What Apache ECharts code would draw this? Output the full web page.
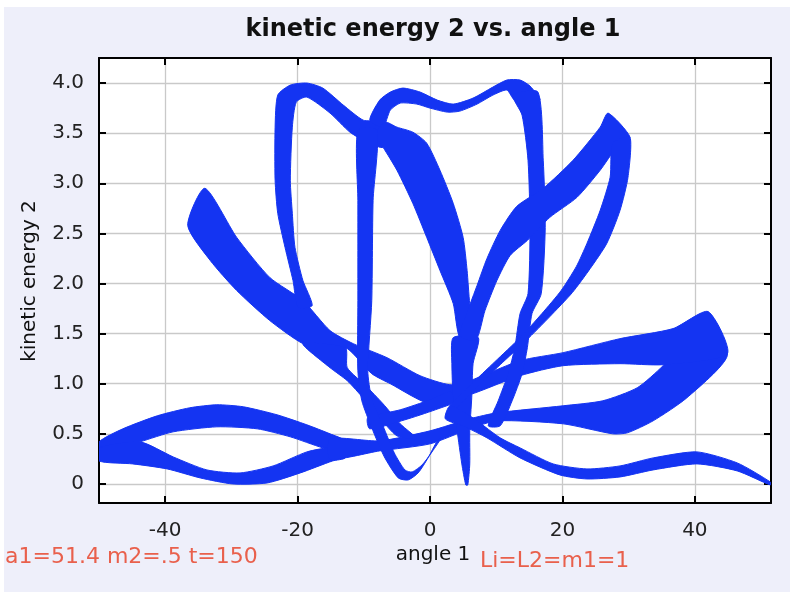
<!DOCTYPE html>
<html>
<head>
<meta charset="utf-8">
<script src="https://cdn.jsdelivr.net/npm/echarts@6/dist/echarts.min.js"></script>
<style>
  html, body { margin: 0; padding: 0; background: #ffffff; }
  #chart { width: 797px; height: 592px; }
</style>
</head>
<body>
<div id="chart"></div>
<script>
// Double pendulum run: kinetic energy of bob 2 against angle of arm 1.
// The trajectory sweeps the same loops many times with a slow drift, so each
// loop shows up as a ribbon. Every ribbon is stored as its two outer edges
// [angle 1, kinetic energy 2].

const angleTicks = [-40, -20, 0, 20, 40];
const energyTicks = [0, 0.5, 1.0, 1.5, 2.0, 2.5, 3.0, 3.5, 4.0];

// lower-left lens: upper ribbon
const lensUpperTop = [[-50, 0.42], [-46.4, 0.55], [-41.2, 0.68], [-36.3, 0.76], [-32.2, 0.79], [-28.2, 0.77], [-23.1, 0.69], [-18.6, 0.59], [-15.1, 0.50], [-12.8, 0.43]];
const lensUpperBottom = [[-50, 0.30], [-43.8, 0.42], [-38.8, 0.52], [-32.2, 0.57], [-26.1, 0.55], [-21.1, 0.47], [-16.2, 0.36], [-12.8, 0.31]];
// lower-left lens: lower ribbon
const lensLowerTop = [[-50, 0.36], [-43.8, 0.42], [-38.8, 0.27], [-33.7, 0.14], [-28.7, 0.11], [-23.7, 0.18], [-18.6, 0.32], [-14.7, 0.37], [-12.8, 0.37]];
const lensLowerBottom = [[-50, 0.23], [-44.9, 0.20], [-39.7, 0.15], [-34.7, 0.06], [-29.8, 0.00], [-24.6, 0.01], [-19.6, 0.11], [-14.7, 0.23], [-12.8, 0.26]];

// low ribbon running from the lens to the right-hand tip
const lowRunTop = [[-15.1, 0.45], [-7.6, 0.43], [0, 0.53], [6.0, 0.65], [10.1, 0.71], [20.1, 0.78], [26.1, 0.83], [31.3, 0.96], [35.2, 1.18], [39.3, 1.48], [42.0, 1.71]];
const lowRunBottom = [[-15.1, 0.25], [-7.6, 0.33], [0, 0.40], [6.0, 0.55], [10.1, 0.63], [20.1, 0.60], [27.6, 0.50], [29.8, 0.51], [33.7, 0.63], [38.8, 0.86], [44.9, 1.28]];

// wide ribbon from the upper-left tip across the middle to the right-hand tip
const longRunTop = [[-34.0, 2.95], [-29.2, 2.46], [-24.2, 2.06], [-19.2, 1.83], [-15.1, 1.53], [-11.6, 1.40], [-6.5, 1.26], [-1.5, 1.08], [3.0, 0.99], [6.0, 1.03], [13.6, 1.23], [20.1, 1.31], [28.7, 1.45], [36.7, 1.55], [42.0, 1.72]];
const longRunBottom = [[-36.6, 2.58], [-33.2, 2.23], [-29.2, 1.93], [-24.2, 1.63], [-19.2, 1.40], [-15.1, 1.34], [-12.5, 1.35], [-8.8, 1.10], [-6.0, 1.00], [0, 0.80], [6.0, 0.89], [13.6, 1.08], [20.1, 1.18], [28.7, 1.20], [35.2, 1.19], [44.9, 1.30]];

// branch leaving the wide ribbon downwards
const branchRight = [[-12.8, 1.36], [-12.5, 1.16], [-9.7, 0.98], [-7.1, 0.80], [-4.5, 0.60], [-2.0, 0.45]];
const branchLeft = [[-19.2, 1.40], [-15.1, 1.16], [-12.5, 1.03], [-10.0, 0.85], [-7.6, 0.66], [-5.0, 0.48]];

// short ribbon joining the centre knot
const crossTop = [[-9.4, 0.66], [-4.5, 0.74], [0, 0.84], [3.0, 0.92]];
const crossBottom = [[-9.1, 0.55], [-3.8, 0.64], [0.8, 0.74], [4.5, 0.84]];

// left arch
const archLeftOuter = [[-19.9, 1.76], [-20.7, 2.03], [-21.9, 2.36], [-23.0, 2.70], [-23.4, 3.03], [-23.4, 3.56], [-23.0, 3.88], [-21.1, 3.98], [-18.6, 4.00], [-16.2, 3.95], [-13.1, 3.78], [-10.1, 3.63], [-7.6, 3.61]];
const archLeftInner = [[-17.8, 1.78], [-19.2, 2.03], [-20.4, 2.36], [-20.8, 2.70], [-21.1, 3.03], [-20.8, 3.56], [-20.2, 3.81], [-18.6, 3.86], [-15.1, 3.70], [-12.1, 3.51], [-9.5, 3.41], [-7.1, 3.36]];

// right arch across the top
const archRightOuter = [[-9.1, 3.63], [-7.6, 3.83], [-6.0, 3.91], [-4.1, 3.95], [-1.5, 3.91], [1.1, 3.83], [3.5, 3.79], [6.5, 3.85], [9.5, 3.96], [11.6, 4.03], [13.6, 4.03], [15.1, 3.97], [16.6, 3.83]];
const archRightInner = [[-7.1, 3.56], [-6.0, 3.73], [-4.5, 3.80], [-2.0, 3.79], [0, 3.75], [2.6, 3.71], [4.5, 3.72], [7.1, 3.79], [9.5, 3.88], [11.6, 3.93], [12.8, 3.83]];

// right leg of the top arch
const legLeft = [[12.5, 3.88], [13.9, 3.68], [14.8, 3.23], [15.1, 2.56], [14.8, 1.90], [13.6, 1.70], [12.8, 1.36], [11.8, 1.10], [10.3, 0.83], [8.8, 0.58]];
const legRight = [[16.3, 3.91], [17.1, 3.23], [17.4, 2.56], [16.8, 1.90], [15.4, 1.70], [14.7, 1.36], [13.9, 1.10], [12.4, 0.83], [10.6, 0.58]];

// broad ribbon falling from the arch junction to the centre
const fallLeft = [[-8.3, 3.48], [-7.1, 3.36], [-5.0, 3.13], [-2.6, 2.80], [-0.5, 2.46], [1.5, 2.13], [3.5, 1.80], [4.5, 1.46]];
const fallRight = [[-6.8, 3.61], [-5.0, 3.56], [-2.6, 3.51], [-0.5, 3.40], [1.5, 3.13], [3.5, 2.80], [5.0, 2.46], [5.6, 2.13], [6.0, 1.80], [6.8, 1.46]];

// narrow spike down to zero energy
const spikeLeft = [[3.5, 1.46], [3.3, 1.20], [3.5, 0.86], [4.1, 0.53], [4.8, 0.20], [5.4, -0.01]];
const spikeRight = [[7.3, 1.46], [6.5, 1.20], [6.3, 0.86], [6.0, 0.53], [6.0, 0.20], [5.7, -0.01]];

// diagonal ribbon up to the upper-right tip
const riseUpper = [[4.5, 1.48], [5.7, 1.73], [7.1, 1.98], [8.6, 2.25], [10.6, 2.53], [13.1, 2.77], [17.1, 2.95], [21.6, 3.23], [25.7, 3.56], [26.9, 3.70]];
const riseLower = [[6.9, 1.43], [8.3, 1.73], [10.1, 2.03], [12.1, 2.28], [14.7, 2.43], [18.1, 2.66], [22.2, 2.86], [25.7, 3.13], [28.2, 3.36], [30.2, 3.46]];

// ribbon falling back from the upper-right tip
const dropRight = [[30.2, 3.46], [29.9, 3.06], [28.7, 2.73], [26.7, 2.40], [24.2, 2.15], [21.5, 1.91], [18.1, 1.67], [14.5, 1.43], [10.6, 1.19], [6.8, 0.95], [3.8, 0.75]];
const dropLeft = [[27.6, 3.40], [27.2, 3.06], [25.7, 2.73], [23.7, 2.40], [22.1, 2.17], [19.8, 1.93], [16.9, 1.70], [13.6, 1.46], [9.8, 1.22], [6.0, 0.98], [3.0, 0.78]];

// loop down from the left arch leg to near-zero energy
const loopLeft = [[-10.9, 3.53], [-10.9, 2.83], [-10.9, 1.83], [-10.9, 1.13], [-10.3, 0.83], [-8.8, 0.56], [-6.9, 0.27], [-4.8, 0.06], [-3.3, 0.04], [-1.8, 0.11], [-0.3, 0.26], [1.1, 0.43]];
const loopRight = [[-8.0, 3.53], [-8.6, 2.83], [-8.8, 1.83], [-9.4, 1.13], [-8.8, 0.85], [-7.1, 0.58], [-5.4, 0.31], [-3.8, 0.14], [-2.7, 0.12], [-1.2, 0.19], [0.3, 0.32], [1.8, 0.47]];

// start of the run: released at 51.4 with no motion, wave along the bottom
const startTop = [[3.0, 0.78], [5.3, 0.71], [7.1, 0.63], [10.6, 0.46], [13.6, 0.36], [18.6, 0.20], [23.7, 0.15], [28.7, 0.18], [33.7, 0.26], [40.3, 0.32], [46.4, 0.21], [51.4, 0.02]];
const startBottom = [[2.3, 0.65], [5.3, 0.57], [8.6, 0.46], [13.6, 0.26], [19.6, 0.09], [23.7, 0.05], [28.7, 0.07], [33.7, 0.14], [40.3, 0.20], [46.4, 0.13], [51.4, -0.01]];

const ribbons = [
  [lensUpperTop, lensUpperBottom],
  [lensLowerTop, lensLowerBottom],
  [lowRunTop, lowRunBottom],
  [longRunTop, longRunBottom],
  [branchRight, branchLeft],
  [crossTop, crossBottom],
  [archLeftOuter, archLeftInner],
  [archRightOuter, archRightInner],
  [legLeft, legRight],
  [fallLeft, fallRight],
  [spikeLeft, spikeRight],
  [riseUpper, riseLower],
  [dropRight, dropLeft],
  [loopLeft, loopRight],
  [startTop, startBottom]
];

const TRACE = '#1434f2';
const FONT = 'DejaVu Sans';

const chart = echarts.init(document.getElementById('chart'), null, { renderer: 'canvas' });

// all four sides of the frame are axes, with short ticks pointing inwards
const tickStyle = { show: true, inside: true, length: 7, lineStyle: { color: '#000', width: 2 } };

function frameAxis(position, min, max, ticks, withLabels, labelExtra) {
  return {
    type: 'value',
    position: position,
    min: min,
    max: max,
    axisLine: { show: true, onZero: false, lineStyle: { color: '#000', width: 2 } },
    axisTick: Object.assign({}, tickStyle, { customValues: ticks }),
    axisLabel: withLabels
      ? Object.assign({ customValues: ticks, fontSize: 20, color: '#222', fontFamily: FONT }, labelExtra)
      : { show: false },
    splitLine: withLabels
      ? { show: true, lineStyle: { color: '#c9c9c9', width: 1.3 } }
      : { show: false }
  };
}

chart.setOption({
  animation: false,
  backgroundColor: '#ffffff',
  graphic: [
    { type: 'rect', z: -10, silent: true, shape: { x: 4, y: 7, width: 786, height: 585 }, style: { fill: '#eeeffa' } },
    { type: 'text', x: 433, y: 30, style: { text: 'kinetic energy 2 vs. angle 1', font: 'bold 24px "DejaVu Sans"', fill: '#111', align: 'center', verticalAlign: 'middle' } },
    { type: 'text', x: 433, y: 555, style: { text: 'angle 1', font: '20px "DejaVu Sans"', fill: '#111', align: 'center', verticalAlign: 'middle' } },
    { type: 'text', x: 30, y: 281, rotation: Math.PI / 2, style: { text: 'kinetic energy 2', font: '20px "DejaVu Sans"', fill: '#111', align: 'center', verticalAlign: 'middle' } },
    { type: 'text', x: 5, y: 557, style: { text: 'a1=51.4 m2=.5 t=150', font: '22px "DejaVu Sans"', fill: '#e9604c', align: 'left', verticalAlign: 'middle' } },
    { type: 'text', x: 480, y: 561, style: { text: 'Li=L2=m1=1', font: '22px "DejaVu Sans"', fill: '#e9604c', align: 'left', verticalAlign: 'middle' } }
  ],
  grid: {
    left: 99, top: 58, width: 672, height: 445,
    show: true, backgroundColor: '#ffffff', borderWidth: 0
  },
  xAxis: [
    frameAxis('bottom', -50, 51.5, angleTicks, true, { margin: 18 }),
    frameAxis('top', -50, 51.5, angleTicks, false)
  ],
  yAxis: [
    frameAxis('left', -0.19, 4.25, energyTicks, true, {
      margin: 15,
      formatter: v => (v === 0 ? '0' : v.toFixed(1))
    }),
    frameAxis('right', -0.19, 4.25, energyTicks, false)
  ],
  series: [{
    type: 'custom',
    coordinateSystem: 'cartesian2d',
    clip: true,
    data: ribbons.map(r => r[0][0]),
    renderItem: function (params, api) {
      const r = ribbons[params.dataIndex];
      const pts = r[0].concat(r[1].slice().reverse()).map(p => api.coord(p));
      return {
        type: 'polygon',
        shape: { points: pts, smooth: 0.22 },
        style: { fill: TRACE, stroke: TRACE, lineWidth: 1 }
      };
    }
  }]
});
</script>
</body>
</html>
